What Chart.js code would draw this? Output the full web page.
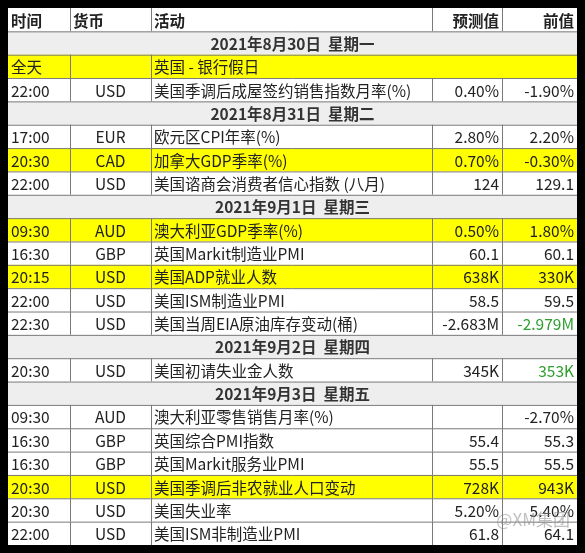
<!DOCTYPE html>
<html><head><meta charset="utf-8">
<script src="https://cdn.jsdelivr.net/npm/chart.js@4"></script>
<style>html,body{margin:0;padding:0;background:#000;}#c{display:block;}</style>
</head><body>
<div style="width:585px;height:553px"><canvas id="c"></canvas></div>
<script>
const headers = ["时间","货币","活动","预测值","前值"];
// row type: d = date header, e = event
const rowTypes = ["d","e","e","d","e","e","e","d","e","e","e","e","e","d","e","d","e","e","e","e","e","e"];
const dates = ["2021年8月30日  星期一","2021年8月31日  星期二","2021年9月1日  星期三","2021年9月2日  星期四","2021年9月3日  星期五"];
const times = ["全天","22:00","17:00","20:30","22:00","09:30","16:30","20:15","22:00","22:30","20:30","09:30","16:30","16:30","20:30","20:30","22:00"];
const currencies = ["","USD","EUR","CAD","USD","AUD","GBP","USD","USD","USD","USD","AUD","GBP","GBP","USD","USD","USD"];
const events = ["英国 - 银行假日","美国季调后成屋签约销售指数月率(%)","欧元区CPI年率(%)","加拿大GDP季率(%)","美国谘商会消费者信心指数 (八月)","澳大利亚GDP季率(%)","英国Markit制造业PMI","美国ADP就业人数","美国ISM制造业PMI","美国当周EIA原油库存变动(桶)","美国初请失业金人数","澳大利亚零售销售月率(%)","英国综合PMI指数","英国Markit服务业PMI","美国季调后非农就业人口变动","美国失业率","美国ISM非制造业PMI"];
const forecasts = ["","0.40%","2.80%","0.70%","124","0.50%","60.1","638K","58.5","-2.683M","345K","","55.4","55.5","728K","5.20%","61.8"];
const previous = ["","-1.90%","2.20%","-0.30%","129.1","1.80%","60.1","330K","59.5","-2.979M","353K","-2.70%","55.3","55.5","943K","5.40%","64.1"];
const highlighted = [true,false,false,true,false,true,false,true,false,false,false,false,false,false,true,false,false];
const greenPrev = ["-2.979M","353K"];
const colEdges = [0,62,143,424,494,569];

const nRows = rowTypes.length + 1;
const FONT = '"Noto Sans CJK SC","Noto Sans",sans-serif';

const tablePlugin = {
  id:'table',
  afterDraw(chart){
    const ctx = chart.ctx, xs = chart.scales.x, ys = chart.scales.y;
    const X = v => xs.getPixelForValue(v), Y = v => ys.getPixelForValue(v);
    ctx.save();
    ctx.fillStyle = '#fff';
    ctx.fillRect(X(0),Y(0),X(569)-X(0),Y(nRows)-Y(0));
    const cellText = (t,c,r,align,color,bold,c2)=>{
      ctx.font = (bold?'bold ':'') + '15.5px ' + FONT;
      ctx.fillStyle = color || '#222';
      ctx.textBaseline = 'middle';
      const yc = (Y(r)+Y(r+1))/2 + 1;
      const ce = c2 === undefined ? c+1 : c2;
      let x;
      if(align==='left'){ctx.textAlign='left'; x = X(colEdges[c])+3;}
      else if(align==='right'){ctx.textAlign='right'; x = X(colEdges[ce])-3;}
      else {ctx.textAlign='center'; x=(X(colEdges[c])+X(colEdges[ce]))/2;}
      ctx.fillText(t,x,yc);
    };
    const hline = r => {ctx.beginPath();ctx.moveTo(X(0),Y(r)+0.5);ctx.lineTo(X(569),Y(r)+0.5);ctx.stroke();};
    const vline = (c,r) => {ctx.beginPath();ctx.moveTo(X(colEdges[c])+0.5,Y(r));ctx.lineTo(X(colEdges[c])+0.5,Y(r+1));ctx.stroke();};
    ctx.strokeStyle = '#7a7a7a'; ctx.lineWidth = 1;
    headers.forEach((h,i)=>cellText(h,i,0,i>=3?'right':'left','#222',true));
    for(let c=1;c<5;c++) vline(c,0);
    let di=0, ei=0;
    rowTypes.forEach((t,k)=>{
      const r = k+1;
      if(t==='d'){
        ctx.fillStyle='#eeeeee';
        ctx.fillRect(X(0),Y(r),X(569)-X(0),Y(r+1)-Y(r));
        cellText(dates[di++],0,r,'center','#333',true,5);
      } else {
        const i = ei++;
        if(highlighted[i]){ctx.fillStyle='#ffff00';ctx.fillRect(X(0),Y(r),X(569)-X(0),Y(r+1)-Y(r));}
        cellText(times[i],0,r,'left');
        cellText(currencies[i],1,r,'center');
        cellText(events[i],2,r,'left');
        cellText(forecasts[i],3,r,'right');
        cellText(previous[i],4,r,'right',greenPrev.includes(previous[i])?'#2e9e2e':'#222');
        const lastCol = (forecasts[i]===''&&previous[i]===''&&currencies[i]==='')?3:5;
        for(let c=1;c<lastCol;c++) vline(c,r);
      }
    });
    ctx.strokeStyle = '#7a7a7a';
    for(let r=1;r<nRows;r++) hline(r);
    ctx.fillStyle='rgba(140,140,140,0.55)';
    ctx.font='17px '+FONT; ctx.textAlign='right'; ctx.textBaseline='middle';
    ctx.fillText('@XM集团',X(562),Y(21.9));
    ctx.restore();
  }
};
new Chart(document.getElementById('c'),{
  type:'scatter',
  data:{datasets:[{data:[],pointRadius:0}]},
  options:{
    responsive:true,maintainAspectRatio:false,animation:false,
    layout:{padding:{left:8,right:8,top:8,bottom:8}},
    plugins:{legend:{display:false},tooltip:{enabled:false}},
    scales:{
      x:{type:'linear',min:0,max:569,display:false},
      y:{type:'linear',min:0,max:nRows,reverse:true,display:false}
    }
  },
  plugins:[{id:'bg',beforeDraw(c){c.ctx.save();c.ctx.fillStyle='#000';c.ctx.fillRect(0,0,c.width,c.height);c.ctx.restore();}},tablePlugin]
});
</script>
</body></html>
